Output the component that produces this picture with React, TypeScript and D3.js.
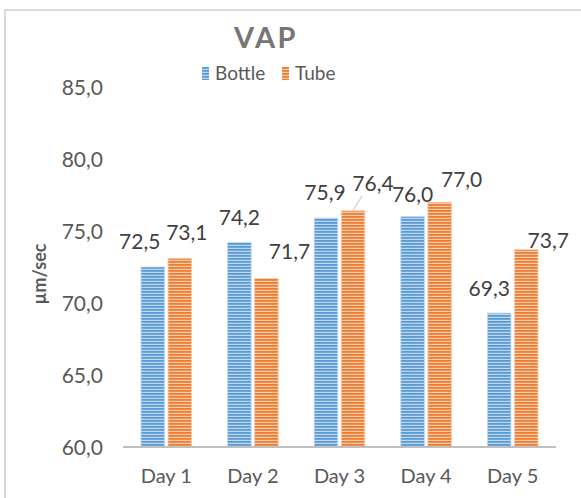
import React, { useRef, useEffect } from 'react';
import * as d3 from 'd3';

const days = ['Day 1', 'Day 2', 'Day 3', 'Day 4', 'Day 5'];
const seriesNames = ['Bottle', 'Tube'];
const bottle = [72.5, 74.2, 75.9, 76.0, 69.3];
const tube = [73.1, 71.7, 76.4, 77.0, 73.7];
const yTicks = [60, 65, 70, 75, 80, 85];

// label nudges (Excel moved some labels by hand)
const bottleLabelDx = [-13, 0, -1, 0, -10];
const bottleLabelDy = [-18, -18, -18, -15, -17];
const tubeLabelDx = [7, 23, 20, 22, 22];
const tubeLabelDy = [-18, -20, -20, -15, -2];
const tubeLeader = [false, false, true, false, false];

const colors = {
  Bottle: { base: '#5b9bd5', light: '#bdd7ee' },
  Tube: { base: '#ed7d31', light: '#f8cbad' },
};

const W = 581;
const H = 498;
const font = 'Lato, "Noto Sans", sans-serif';

const App = () => {
  const ref = useRef<SVGSVGElement | null>(null);

  useEffect(() => {
    if (!ref.current) return;
    const svg = d3.select(ref.current);
    svg.selectAll('*').remove();

    const left = 123;
    const right = 556;
    const top = 87;
    const bottom = 447;

    const fmt = (v: number) => v.toFixed(1).replace('.', ',');

    const x0 = d3
      .scaleBand<string>()
      .domain(days)
      .range([left, right])
      .paddingInner(0.416)
      .paddingOuter(0.208);
    const x1 = d3
      .scaleBand<string>()
      .domain(seriesNames)
      .range([0, x0.bandwidth()])
      .paddingInner(0.13);
    const y = d3.scaleLinear().domain([60, 85]).range([bottom, top]);

    // striped fills
    const defs = svg.append('defs');
    seriesNames.forEach((name) => {
      const c = colors[name as keyof typeof colors];
      const p = defs
        .append('pattern')
        .attr('id', 'stripe-' + name)
        .attr('patternUnits', 'userSpaceOnUse')
        .attr('width', 8)
        .attr('height', 3);
      p.append('rect').attr('width', 8).attr('height', 3).attr('fill', c.base);
      p.append('rect').attr('y', 1.8).attr('width', 8).attr('height', 1.2).attr('fill', c.light);
    });

    // chart border
    svg
      .append('path')
      .attr('d', `M5,${H} V10 H${W}`)
      .attr('fill', 'none')
      .attr('stroke', '#d9d9d9')
      .attr('stroke-width', 2);

    // title
    svg
      .append('text')
      .attr('x', 266)
      .attr('y', 48)
      .attr('text-anchor', 'middle')
      .attr('font-family', font)
      .attr('font-weight', 'bold')
      .attr('font-size', 29)
      .attr('letter-spacing', 2.5)
      .attr('fill', '#767676')
      .text('VAP');

    // legend
    const legendX = [202, 282];
    seriesNames.forEach((name, i) => {
      const g = svg.append('g').attr('transform', `translate(${legendX[i]}, 67)`);
      g.append('rect')
        .attr('width', 7)
        .attr('height', 13)
        .attr('fill', `url(#stripe-${name})`);
      g.append('text')
        .attr('x', 13)
        .attr('y', 13)
        .attr('font-family', font)
        .attr('font-size', 19)
        .attr('fill', '#595959')
        .text(name);
    });

    // y tick labels
    svg
      .append('g')
      .selectAll('text')
      .data(yTicks)
      .enter()
      .append('text')
      .attr('x', 103)
      .attr('y', (d) => y(d))
      .attr('dy', '0.36em')
      .attr('text-anchor', 'end')
      .attr('font-family', font)
      .attr('font-size', 21)
      .attr('fill', '#595959')
      .text((d) => fmt(d));

    // y axis title
    svg
      .append('text')
      .attr('transform', `translate(46, 274) rotate(-90)`)
      .attr('text-anchor', 'middle')
      .attr('font-family', font)
      .attr('font-weight', 'bold')
      .attr('font-size', 18)
      .attr('fill', '#595959')
      .text('µm/sec');

    // bars
    const allSeries = [
      { name: 'Bottle', values: bottle, dx: bottleLabelDx, dy: bottleLabelDy, leader: [] as boolean[] },
      { name: 'Tube', values: tube, dx: tubeLabelDx, dy: tubeLabelDy, leader: tubeLeader },
    ];

    allSeries.forEach((s) => {
      const g = svg.append('g');
      g.selectAll('rect')
        .data(s.values)
        .enter()
        .append('rect')
        .attr('x', (d, i) => (x0(days[i]) as number) + (x1(s.name) as number))
        .attr('y', (d) => y(d))
        .attr('width', x1.bandwidth())
        .attr('height', (d) => bottom - y(d))
        .attr('fill', `url(#stripe-${s.name})`)
        .attr('stroke', colors[s.name as keyof typeof colors].light)
        .attr('stroke-width', 0.8);

      s.values.forEach((v, i) => {
        const cx = (x0(days[i]) as number) + (x1(s.name) as number) + x1.bandwidth() / 2;
        if (s.leader[i]) {
          svg
            .append('line')
            .attr('x1', cx)
            .attr('y1', y(v))
            .attr('x2', cx + 9)
            .attr('y2', y(v) - 15)
            .attr('stroke', '#bfbfbf')
            .attr('stroke-width', 1);
        }
        svg
          .append('text')
          .attr('x', cx + s.dx[i])
          .attr('y', y(v) + s.dy[i])
          .attr('text-anchor', 'middle')
          .attr('font-family', font)
          .attr('font-size', 21)
          .attr('fill', '#404040')
          .text(fmt(v));
      });
    });

    // x axis line
    svg
      .append('line')
      .attr('x1', left)
      .attr('x2', right)
      .attr('y1', bottom)
      .attr('y2', bottom)
      .attr('stroke', '#bfbfbf')
      .attr('stroke-width', 2);

    // category labels
    svg
      .append('g')
      .selectAll('text')
      .data(days)
      .enter()
      .append('text')
      .attr('x', (d) => (x0(d) as number) + x0.bandwidth() / 2)
      .attr('y', 483)
      .attr('text-anchor', 'middle')
      .attr('font-family', font)
      .attr('font-size', 20)
      .attr('fill', '#595959')
      .text((d) => d);
  }, []);

  return (
    <svg
      ref={ref}
      width={W}
      height={H}
      style={{ position: 'absolute', left: 0, top: 0, background: '#fff' }}
    />
  );
};

export default App;
